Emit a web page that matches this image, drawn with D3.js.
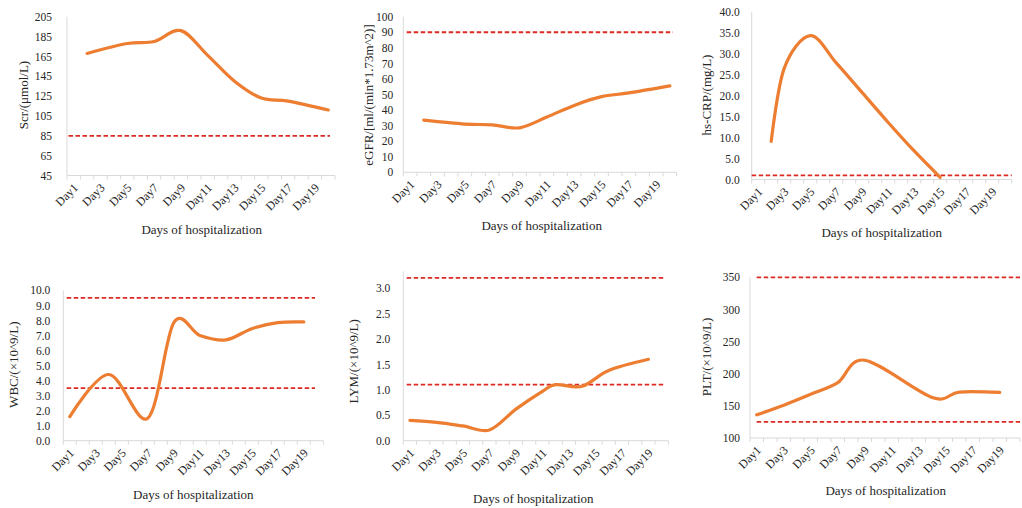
<!DOCTYPE html>
<html>
<head>
<meta charset="utf-8">
<script src="https://cdn.jsdelivr.net/npm/d3@7"></script>
<style>
  body { margin: 0; background: #fff; }
  svg { display: block; }
  text { font-family: "Liberation Serif", "Times New Roman", serif; fill: #262626; }
</style>
</head>
<body>
<svg id="chart" width="1022" height="508"></svg>
<script>
// Categories: days of hospitalization
const days = d3.range(1, 21).map(d => "Day" + d);

// Measured values per day (null = not measured that day)
const scrValues  = [null,168,null,null,178,null,180,null,191,null,166,null,140,null,123,null,120,null,null,111];
const egfrValues = [null,33.5,null,null,31,null,30.5,null,28.6,null,35.5,null,43,null,48.6,null,51,null,null,55.5];
const crpValues  = [null,9.1,26.5,null,34.3,null,27.8,null,20.7,null,13.6,null,6.8,null,0.5,null,null,null,null,null];
const wbcValues  = [1.6,null,null,4.4,null,null,1.5,null,7.85,null,7.0,null,6.7,null,7.45,null,7.85,null,7.9,null];
const lymValues  = [0.4,null,0.36,null,0.29,null,0.21,null,0.62,null,0.97,1.1,null,1.07,null,1.38,null,null,1.6,null];
const pltValues  = [136,null,151,null,168,null,186,null,221,null,null,null,null,163,null,171.5,null,null,171,null];

// Reference ranges (dashed lines)
const scrRef  = [85];
const egfrRef = [90];
const crpRef  = [1];
const wbcRef  = [3.5, 9.5];
const lymRef  = [1.1, 3.2];
const pltRef  = [125, 350];

// Y tick labels
const scrTicks  = d3.range(45, 206, 20);
const egfrTicks = d3.range(0, 101, 10);
const crpTicks  = d3.range(0, 41, 5);
const wbcTicks  = d3.range(0, 11, 1);
const lymTicks  = [0, 0.5, 1, 1.5, 2, 2.5, 3];
const pltTicks  = d3.range(100, 351, 50);

// Panel layout
const panels = [
  { values: scrValues, refs: scrRef, ticks: scrTicks, fmt: d3.format("d"), domain: [45, 205],
    title: "Scr/(\u03bcmol/L)", left: 67, right: 335, yMin: 175.5, yMax: 16.7, axisTop: 16.7, gap: 15,
    refInset: [1.5, 5], yt: [23, 95], xt: [201.7, 229] },
  { values: egfrValues, refs: egfrRef, ticks: egfrTicks, fmt: d3.format("d"), domain: [0, 100],
    title: "eGFR/[ml/(min*1.73m^2)]", left: 403.3, right: 676.7, yMin: 172.3, yMax: 16.7, axisTop: 16.7, gap: 10,
    refInset: [3.4, 3.7], yt: [368.3, 95], xt: [541.7, 225] },
  { values: crpValues, refs: crpRef, ticks: crpTicks, fmt: d3.format(".1f"), domain: [0, 40],
    title: "hs-CRP/(mg/L)", left: 751.7, right: 1011.7, yMin: 179.5, yMax: 11.7, axisTop: 11.7, gap: 12,
    refInset: [0, 0], yt: [706, 95], xt: [881.7, 232.7] },
  { values: wbcValues, refs: wbcRef, ticks: wbcTicks, fmt: d3.format(".1f"), domain: [0, 10],
    title: "WBC/(\u00d710^9/L)", left: 63.3, right: 323.3, yMin: 440.7, yMax: 290.3, axisTop: 290.3, gap: 13,
    refInset: [3.4, 8.3], yt: [13.3, 364.7], xt: [193.3, 494] },
  { values: lymValues, refs: lymRef, ticks: lymTicks, fmt: d3.format(".1f"), domain: [0, 3],
    title: "LYM/(\u00d710^9/L)", left: 403.3, right: 668.3, yMin: 440.7, yMax: 288, axisTop: 271.3, gap: 13,
    refInset: [3.4, 3.3], yt: [353.3, 361.3], xt: [533.3, 498] },
  { values: pltValues, refs: pltRef, ticks: pltTicks, fmt: d3.format("d"), domain: [100, 350],
    title: "PLT/(\u00d710^9/L)", left: 750, right: 1020, yMin: 438, yMax: 277.3, axisTop: 277.3, gap: 10,
    refInset: [6.7, 0], yt: [706.7, 357], xt: [885.7, 490.7] }
];

const svg = d3.select("#chart");
const gridColor = "#d9d9d9";
const lineColor = "#ED7D31";
const refColor = "#dc2b24";
const textColor = "#262626";

panels.forEach(p => {
  const g = svg.append("g");
  const x = d3.scaleBand().domain(days).range([p.left, p.right]).padding(0);
  const y = d3.scaleLinear().domain(p.domain).range([p.yMin, p.yMax]);
  const cx = d => x(d) + x.bandwidth() / 2;

  // y axis: labels only, plus a light axis line
  const ya = g.append("g")
    .attr("transform", `translate(${p.left},0)`)
    .call(d3.axisLeft(y).tickValues(p.ticks).tickFormat(p.fmt).tickSize(0).tickPadding(p.gap));
  ya.select(".domain").remove();
  ya.selectAll("text").attr("font-size", 11.5).attr("fill", textColor)
    .style("font-family", "'Liberation Serif', serif");
  g.append("line").attr("x1", p.left).attr("x2", p.left)
    .attr("y1", p.axisTop).attr("y2", p.yMin)
    .attr("stroke", gridColor).attr("stroke-width", 1);

  // x axis: line, tick marks between categories, every other label rotated
  g.append("line").attr("x1", p.left).attr("x2", p.right)
    .attr("y1", p.yMin).attr("y2", p.yMin)
    .attr("stroke", gridColor).attr("stroke-width", 1);
  const bounds = days.map(d => x(d)).concat([p.right]);
  g.selectAll(".xt").data(bounds).join("line")
    .attr("x1", d => d).attr("x2", d => d)
    .attr("y1", p.yMin).attr("y2", p.yMin + 4)
    .attr("stroke", gridColor).attr("stroke-width", 1);
  const xa = g.append("g")
    .attr("transform", `translate(0,${p.yMin})`)
    .call(d3.axisBottom(x).tickSize(0).tickFormat((d, i) => i % 2 === 0 ? d : ""));
  xa.select(".domain").remove();
  xa.selectAll("text")
    .attr("font-size", 12).attr("fill", textColor)
    .style("font-family", "'Liberation Serif', serif")
    .attr("text-anchor", "end")
    .attr("dy", 0).attr("y", 0)
    .attr("transform", "translate(5,13) rotate(-45)");

  // reference lines
  g.selectAll(".ref").data(p.refs).join("line")
    .attr("x1", p.left + p.refInset[0]).attr("x2", p.right - p.refInset[1])
    .attr("y1", d => y(d)).attr("y2", d => y(d))
    .attr("stroke", refColor).attr("stroke-width", 1.8)
    .attr("stroke-dasharray", "4.5,2.5");

  // measured series, smoothed
  const pts = p.values.map((v, i) => [days[i], v]).filter(d => d[1] != null);
  g.append("path").datum(pts)
    .attr("fill", "none").attr("stroke", lineColor).attr("stroke-width", 3.2)
    .attr("stroke-linecap", "round").attr("stroke-linejoin", "round")
    .attr("d", d3.line().x(d => cx(d[0])).y(d => y(d[1])).curve(d3.curveCardinal.tension(0)));

  // titles
  g.append("text")
    .attr("transform", `translate(${p.yt[0]},${p.yt[1]}) rotate(-90)`)
    .attr("text-anchor", "middle").attr("dominant-baseline", "central")
    .attr("font-size", 13).text(p.title);
  g.append("text")
    .attr("x", p.xt[0]).attr("y", p.xt[1])
    .attr("text-anchor", "middle").attr("dominant-baseline", "central")
    .attr("font-size", 13).text("Days of hospitalization");
});
</script>
</body>
</html>
